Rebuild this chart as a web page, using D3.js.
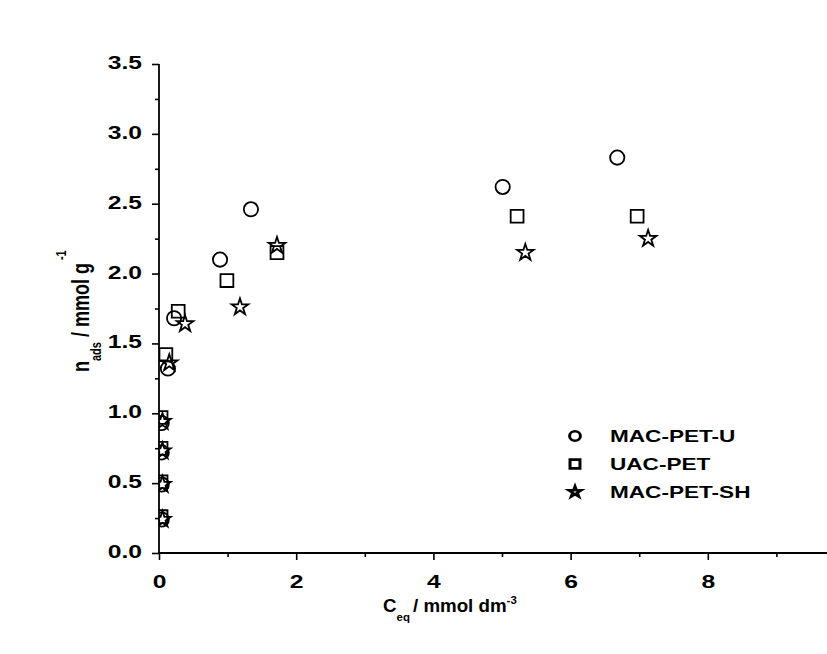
<!DOCTYPE html>
<html>
<head>
<meta charset="utf-8">
<script src="https://cdn.jsdelivr.net/npm/d3@7"></script>
<style>
  body { margin: 0; background: #fff; }
  text { font-family: Arial, "Liberation Sans", sans-serif; font-weight: bold; fill: #000; }
</style>
</head>
<body>
<div id="chart"></div>
<script>
// series values
const macU_x = [0.04, 0.04, 0.04, 0.04, 0.13, 0.22, 0.89, 1.34, 5.01, 6.68];
const macU_y = [0.24, 0.49, 0.72, 0.93, 1.32, 1.68, 2.10, 2.46, 2.62, 2.83];
const uac_x = [0.03, 0.03, 0.03, 0.03, 0.10, 0.28, 0.99, 1.72, 5.22, 6.97];
const uac_y = [0.26, 0.51, 0.75, 0.97, 1.42, 1.73, 1.95, 2.15, 2.41, 2.41];
const sh_x = [0.05, 0.05, 0.05, 0.05, 0.15, 0.38, 1.18, 1.72, 5.34, 7.13];
const sh_y = [0.24, 0.49, 0.73, 0.94, 1.36, 1.64, 1.76, 2.20, 2.15, 2.25];

const seriesNames = ["MAC-PET-U", "UAC-PET", "MAC-PET-SH"];
const xTicks = [0, 2, 4, 6, 8];
const yTicks = [0, 0.5, 1, 1.5, 2, 2.5, 3, 3.5];

const svgWidth = 827;
const svgHeight = 654;

const margin = { top: 64, left: 159, bottom: 101 };

// the original figure is stretched sideways, so is its text
const stretch = 1.37;

const svg = d3.select("#chart")
    .append("svg")
    .attr("width", svgWidth)
    .attr("height", svgHeight);

// scales
const x = d3.scaleLinear().domain([0, 10]).range([margin.left, margin.left + 686]);
const y = d3.scaleLinear().domain([0, 3.5]).range([svgHeight - margin.bottom, margin.top]);

// clip to the plot frame
svg.append("clipPath").attr("id", "plotClip")
    .append("rect")
    .attr("x", x(0))
    .attr("y", y(3.5) - 20)
    .attr("width", svgWidth - x(0))
    .attr("height", y(0) - y(3.5) + 20);

// x axis - minor then major ticks
const xMinor = svg.append("g")
    .attr("transform", `translate(0, ${y(0)})`)
    .call(d3.axisBottom(x).tickValues([1, 3, 5, 7, 9]).tickSize(4).tickFormat(""));
xMinor.select(".domain").remove();
const xMajor = svg.append("g")
    .attr("transform", `translate(0, ${y(0)})`)
    .call(d3.axisBottom(x).tickValues(xTicks).tickSize(7).tickPadding(15).tickFormat(d3.format("d")));
xMajor.select(".domain").remove();
xMajor.selectAll("text")
    .style("font-size", "18px")
    .attr("transform", `scale(${stretch}, 1)`);

svg.append("line")
    .attr("x1", x(0)).attr("x2", svgWidth)
    .attr("y1", y(0)).attr("y2", y(0))
    .attr("stroke", "#000").attr("stroke-width", 1.8);

// y axis - minor then major ticks
const yMinor = svg.append("g")
    .attr("transform", `translate(${x(0)}, 0)`)
    .call(d3.axisLeft(y).tickValues([0.25, 0.75, 1.25, 1.75, 2.25, 2.75, 3.25]).tickSize(4).tickFormat(""));
yMinor.select(".domain").remove();
const yMajor = svg.append("g")
    .attr("transform", `translate(${x(0)}, 0)`)
    .call(d3.axisLeft(y).tickValues(yTicks).tickSize(7).tickPadding(10).tickFormat(d3.format(".1f")));
yMajor.select(".domain").remove();
yMajor.selectAll("text")
    .style("font-size", "18px")
    .attr("x", -17 / stretch)
    .attr("dy", "0.25em")
    .attr("transform", `scale(${stretch}, 1)`);
svg.selectAll("g.tick line").attr("stroke-width", 1.6);

svg.append("line")
    .attr("x1", x(0)).attr("x2", x(0))
    .attr("y1", y(0) + 1).attr("y2", y(3.5))
    .attr("stroke", "#000").attr("stroke-width", 1.8);

// markers
const symbols = [
    d3.symbol().type(d3.symbolCircle).size(160),
    d3.symbol().type(d3.symbolSquare).size(165),
    d3.symbol().type(d3.symbolStar).size(85)
];
const legendSymbols = [
    d3.symbol().type(d3.symbolCircle).size(70),
    d3.symbol().type(d3.symbolSquare).size(75),
    d3.symbol().type(d3.symbolStar).size(34)
];

const series = [
    { xs: macU_x, ys: macU_y },
    { xs: uac_x, ys: uac_y },
    { xs: sh_x, ys: sh_y }
];

const pointsG = svg.append("g").attr("clip-path", "url(#plotClip)");
series.forEach(function(s, i) {
    const pts = s.xs.map((v, j) => ({ x: v, y: s.ys[j] }));
    pointsG.selectAll(null)
        .data(pts)
        .enter()
        .append("path")
        .attr("d", symbols[i])
        .attr("transform", d => `translate(${x(d.x)}, ${y(d.y)})`)
        .attr("fill", "none")
        .attr("stroke", "#000")
        .attr("stroke-width", 1.8);
});

// legend
const legend = svg.append("g");
seriesNames.forEach(function(name, i) {
    const ly = 436 + i * 28;
    legend.append("path")
        .attr("d", legendSymbols[i])
        .attr("transform", `translate(575, ${ly}) scale(1.15, 1)`)
        .attr("fill", "none")
        .attr("stroke", "#000")
        .attr("stroke-width", 2.6);
    legend.append("text")
        .attr("transform", `translate(610, ${ly + 6}) scale(${stretch}, 1)`)
        .style("font-size", "16.5px")
        .text(name);
});

// axis titles
const xTitle = svg.append("text")
    .attr("transform", "translate(383, 612) scale(1.04, 1)")
    .style("font-size", "18px");
xTitle.append("tspan").text("C");
xTitle.append("tspan").attr("dy", 9).style("font-size", "11px").text("eq");
xTitle.append("tspan").attr("dy", -9).attr("dx", 3).text("/ mmol dm");
xTitle.append("tspan").attr("dy", -8).style("font-size", "11px").text("-3");

const yTitle = svg.append("text")
    .attr("transform", "translate(89, 372) rotate(-90) scale(1, 1.3)")
    .style("font-size", "18px");
yTitle.append("tspan").text("n");
yTitle.append("tspan").attr("dy", 9).style("font-size", "11px").text("ads");
yTitle.append("tspan").attr("dy", -9).text(" / mmol g");
yTitle.append("tspan").attr("dy", -18).style("font-size", "11px").text(" -1");
</script>
</body>
</html>
